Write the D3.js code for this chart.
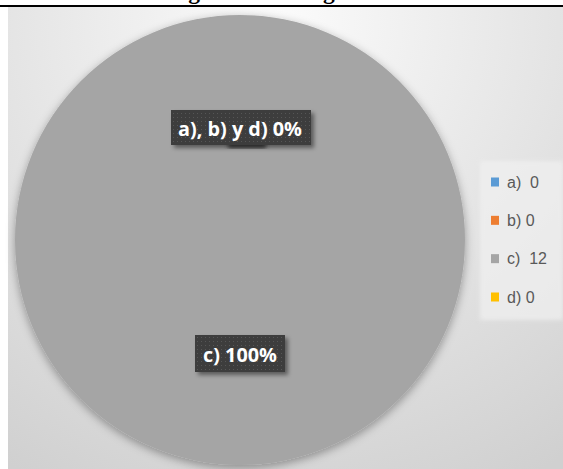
<!DOCTYPE html>
<html>
<head>
<meta charset="utf-8">
<script src="https://cdn.jsdelivr.net/npm/d3@7"></script>
<style>
html,body{margin:0;padding:0;background:#fff;overflow:hidden;}
svg{display:block;}
</style>
</head>
<body>
<svg id="chart" width="563" height="469"></svg>
<script>
// ---- data ----
const titleText = "Diagrama de Pregunta";
const categories = ["a)", "b)", "c)", "d)"];
const values = [0, 0, 12, 0];
const legendLabels = ["a)  0", "b) 0", "c)  12", "d) 0"];
const colors = ["#5b9bd5", "#ed7d31", "#a5a5a5", "#ffc000"];
const dataLabels = ["a), b) y d) 0%", "c) 100%"];

const W = 563, H = 469;
const svg = d3.select("#chart");
const defs = svg.append("defs");

const bg = defs.append("radialGradient").attr("id", "bgGrad")
  .attr("gradientUnits", "userSpaceOnUse")
  .attr("cx", 280).attr("cy", 20).attr("r", 520);
bg.append("stop").attr("offset", "0").attr("stop-color", "#fbfbfb");
bg.append("stop").attr("offset", "1").attr("stop-color", "#d0d0d0");

const sh = defs.append("filter").attr("id", "pieShadow")
  .attr("x", "-20%").attr("y", "-20%").attr("width", "140%").attr("height", "140%");
sh.append("feDropShadow").attr("dx", 0).attr("dy", 3).attr("stdDeviation", 5)
  .attr("flood-color", "#000").attr("flood-opacity", 0.35);

const lsh = defs.append("filter").attr("id", "lblShadow")
  .attr("x", "-20%").attr("y", "-30%").attr("width", "140%").attr("height", "170%");
lsh.append("feDropShadow").attr("dx", 3).attr("dy", 3).attr("stdDeviation", 2)
  .attr("flood-color", "#000").attr("flood-opacity", 0.45);

const lgsh = defs.append("filter").attr("id", "legShadow")
  .attr("x", "-20%").attr("y", "-20%").attr("width", "140%").attr("height", "140%");
lgsh.append("feGaussianBlur").attr("stdDeviation", 2);

const pat = defs.append("pattern").attr("id", "dots")
  .attr("patternUnits", "userSpaceOnUse").attr("width", 4).attr("height", 4);
pat.append("rect").attr("width", 4).attr("height", 4).attr("fill", "#3d3d3d");
pat.append("rect").attr("x", 1).attr("y", 1).attr("width", 1).attr("height", 1).attr("fill", "#565656");

// chart area
svg.append("rect").attr("x", 8).attr("y", 7).attr("width", W - 8).attr("height", H - 7)
  .attr("fill", "url(#bgGrad)");

// title (cut at top edge, only descenders visible)
const title = svg.append("text")
  .attr("x", 0).attr("y", -1.5)
  .attr("font-family", "Liberation Serif, serif")
  .attr("font-weight", "bold")
  .attr("font-size", 22)
  .attr("fill", "#000")
  .text(titleText);
{
  const node = title.node();
  const i1 = titleText.indexOf("g");
  const i2 = titleText.lastIndexOf("g");
  const e1 = node.getExtentOfChar(i1), e2 = node.getExtentOfChar(i2);
  const c1 = e1.x + e1.width / 2, c2 = e2.x + e2.width / 2;
  const target1 = 194, target2 = 329;
  const fs = 22 * (target2 - target1) / (c2 - c1);
  title.attr("font-size", fs);
  const f1 = node.getExtentOfChar(i1);
  title.attr("x", target1 - (f1.x + f1.width / 2));
}

svg.append("line").attr("x1", 0).attr("x2", W).attr("y1", 6).attr("y2", 6)
  .attr("stroke", "#000").attr("stroke-width", 1.8);

// pie
const cx = 240, cy = 240, R = 225;
const pie = d3.pie().sort(null).value(d => d.v);
const arcs = pie(categories.map((c, i) => ({c, v: values[i], col: colors[i]})));
const arcGen = d3.arc().innerRadius(0).outerRadius(R);
const g = svg.append("g").attr("transform", `translate(${cx},${cy})`).attr("filter", "url(#pieShadow)");
g.selectAll("path").data(arcs).join("path")
  .attr("d", arcGen)
  .attr("fill", d => d.data.col);

// data labels
function label(text, xc, baseline, targetW, x0, x1, top, bottom) {
  const grp = svg.append("g");
  const t = grp.append("text").attr("x", xc).attr("y", baseline)
    .attr("text-anchor", "middle")
    .attr("font-family", "Open Sans, Liberation Sans, sans-serif")
    .attr("font-weight", "bold").attr("font-size", 16)
    .attr("fill", "#fff").text(text);
  const w = t.node().getComputedTextLength();
  t.attr("font-size", 16 * targetW / w);
  grp.insert("rect", "text")
    .attr("x", x0).attr("y", top)
    .attr("width", x1 - x0).attr("height", bottom - top)
    .attr("fill", "url(#dots)").attr("filter", "url(#lblShadow)");
  return grp;
}
svg.append("rect").attr("x", 228).attr("y", 143).attr("width", 38).attr("height", 5)
  .attr("fill", "#303030").attr("filter", "url(#legShadow)");
label(dataLabels[0], 240, 136, 124, 171, 311, 110, 145);
label(dataLabels[1], 240, 362, 74, 195, 285, 335, 372);

// legend
svg.append("rect").attr("x", 480).attr("y", 161).attr("width", 83).attr("height", 159)
  .attr("fill", "#f0f0f0").attr("opacity", 0.75).attr("filter", "url(#legShadow)");
const ly = d3.scalePoint().domain(categories).range([182, 297]);
const lg = svg.append("g");
categories.forEach((c, i) => {
  lg.append("rect").attr("x", 491).attr("y", ly(c) - 4.5).attr("width", 8).attr("height", 9)
    .attr("fill", colors[i]);
  lg.append("text").attr("x", 507).attr("y", ly(c) + 5.5)
    .attr("font-family", "Liberation Sans, sans-serif").attr("font-size", 16)
    .attr("fill", "#595959").attr("xml:space", "preserve")
    .style("white-space", "pre")
    .text(legendLabels[i]);
});
</script>
</body>
</html>
